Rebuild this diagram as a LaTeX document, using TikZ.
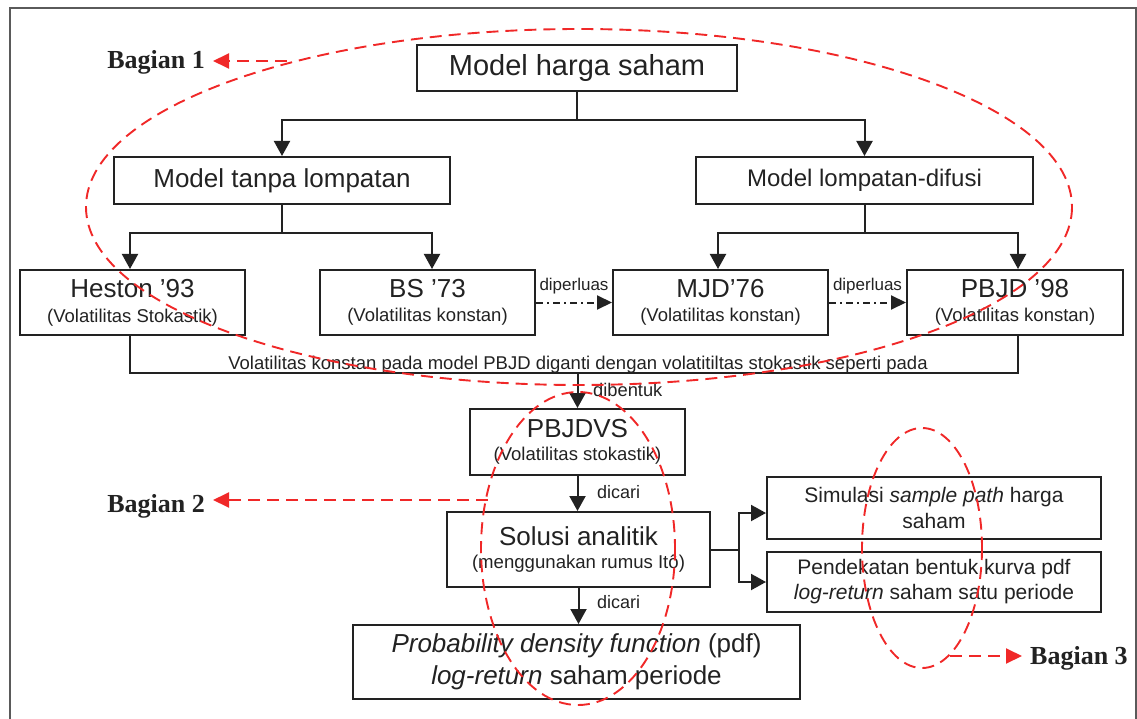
\documentclass[tikz,border=0pt]{standalone}
\usepackage{fontspec}
\setmainfont{Liberation Sans}
\newfontfamily\bagfont{Liberation Serif}
\usetikzlibrary{arrows.meta}
\definecolor{ink}{RGB}{34,34,34}
\definecolor{redc}{RGB}{240,40,40}
\definecolor{framec}{RGB}{90,90,90}
\newcommand\fsz[2]{\fontsize{#1}{#2}\selectfont}
\begin{document}
\begin{tikzpicture}[x=1pt,y=-1pt,
  box/.style={draw=ink, line width=2pt, inner sep=0pt, align=center, text=ink},
  ln/.style={draw=ink, line width=2pt},
  arr/.style={ln, -{Triangle[length=15pt,width=16pt]}},
  ddarr/.style={ln, dash pattern=on 7pt off 4pt on 2pt off 4pt, -{Triangle[length=15pt,width=14pt]}},
  lbl/.style={inner sep=0pt, text=ink},
  reddash/.style={draw=redc, line width=1.9pt, dash pattern=on 12pt off 7pt},
  redarr/.style={reddash, -{Triangle[length=16pt,width=15pt]}},
  bag/.style={inner sep=0pt, text=ink, font=\bagfont\bfseries\fsz{26}{30}},
  frame/.style={draw=framec, line width=1.8pt}]
\useasboundingbox (0,0) rectangle (1137,719);
\draw[frame] (10,719) -- (10,8) -- (1136,8) -- (1136,719);

% boxes
\node[box, minimum width=320pt, minimum height=46pt, font=\fsz{29}{32}] (top) at (577,68.5) {Model harga saham};
\node[box, minimum width=336pt, minimum height=47pt, font=\fsz{26}{30}] (tanpa) at (282,180.5) {Model tanpa lompatan};
\node[box, minimum width=337pt, minimum height=47pt, font=\fsz{24}{28}] (difusi) at (864.5,180.5) {Model lompatan-difusi};
\node[box, minimum width=225pt, minimum height=65pt, font=\fsz{26}{25}] (heston) at (132.5,302.5) {Heston ’93\\{\fsz{18.5}{25}(Volatilitas Stokastik)}};
\node[box, minimum width=215pt, minimum height=65pt, font=\fsz{26}{24}] (bs) at (427.5,302.5) {BS ’73\\{\fsz{18.5}{24}(Volatilitas konstan)}};
\node[box, minimum width=215pt, minimum height=65pt, font=\fsz{26}{24}] (mjd) at (720.5,302.5) {MJD’76\\{\fsz{18.5}{24}(Volatilitas konstan)}};
\node[box, minimum width=216pt, minimum height=65pt, font=\fsz{26}{24}] (pbjd) at (1015,302.5) {PBJD ’98\\{\fsz{18.5}{24}(Volatilitas konstan)}};
\node[box, minimum width=215pt, minimum height=66pt, font=\fsz{26}{23}] (pbjdvs) at (577.5,442) {PBJDVS\\{\fsz{18.5}{23}(Volatilitas stokastik)}};
\node[box, minimum width=263pt, minimum height=75pt, font=\fsz{26}{23}] (solusi) at (578.5,549.5) {Solusi analitik\\{\fsz{18.6}{23}(menggunakan rumus Itô)}};
\node[box, minimum width=447pt, minimum height=74pt, font=\fsz{26}{32}] (pdf) at (576.5,662) {\textit{Probability density function} (pdf)\\\textit{log-return} saham periode};
\node[box, minimum width=334pt, minimum height=62pt, font=\fsz{21}{26}] (sim) at (934,508) {Simulasi \textit{sample path} harga\\saham};
\node[box, minimum width=334pt, minimum height=60pt, font=\fsz{21}{25}] (pend) at (934,582) {Pendekatan bentuk kurva pdf\\\textit{log-return} saham satu periode};

% tree connectors
\draw[ln] (top.south) -- ++(0,28) coordinate (j1);
\draw[arr] (j1) -| (tanpa.north);
\draw[arr] (j1) -| (difusi.north);
\draw[ln] (tanpa.south) -- ++(0,28) coordinate (j2);
\draw[arr] (j2) -| ([xshift=-2.5pt]heston.north);
\draw[arr] (j2) -| ([xshift=4.5pt]bs.north);
\draw[ln] (difusi.south) -- ++(0,28) coordinate (j3);
\draw[arr] (j3) -| ([xshift=-2.5pt]mjd.north);
\draw[arr] (j3) -| ([xshift=3pt]pbjd.north);

% extensions
\draw[ddarr] (bs.east) -- (mjd.west) node[midway, anchor=base, yshift=12pt, lbl, font=\fsz{17}{20}] (dp1) {diperluas};
\draw[ddarr] (mjd.east) -- (pbjd.west) node[midway, anchor=base, yshift=12pt, lbl, font=\fsz{17}{20}] (dp2) {diperluas};

% bottom combination line
\path ([xshift=-2.5pt]heston.south) ++(0,37) coordinate (hb);
\draw[ln] ([xshift=-2.5pt]heston.south) -- (hb) -| ([xshift=3pt]pbjd.south);
\node[lbl, anchor=base, font=\fsz{18.5}{22}] (note) at (578,369) {Volatilitas konstan pada model PBJD diganti dengan volatitiltas stokastik seperti pada};
\coordinate (j4) at (pbjdvs.north |- hb);
\draw[arr] (j4) -- (pbjdvs.north);
\node[lbl, anchor=base west, font=\fsz{18.3}{22}] (dib) at (593,396) {dibentuk};

\draw[arr] (pbjdvs.south) -- (pbjdvs.south |- solusi.north);
\node[lbl, anchor=base west, font=\fsz{18}{22}] (dc1) at (597,498) {dicari};
\draw[arr] (solusi.south) -- (solusi.south |- pdf.north);
\node[lbl, anchor=base west, font=\fsz{18}{22}] (dc2) at (597,608) {dicari};

\draw[ln] (solusi.east) -- ++(28,0) coordinate (j5);
\draw[arr] (j5) |- ([yshift=-5pt]sim.west);
\draw[arr] (j5) |- (pend.west);

% red annotation ellipses
\draw[reddash] (579,207) ellipse [x radius=493, y radius=178];
\draw[reddash] (578,548.5) ellipse [x radius=97, y radius=156.5];
\draw[reddash] (922,548) ellipse [x radius=60, y radius=120];

% Bagian labels
\node[bag, anchor=base east] (b1) at (205,69) {Bagian 1};
\node[bag, anchor=base east] (b2) at (205,512) {Bagian 2};
\node[bag, anchor=base west] (b3) at (1030,664) {Bagian 3};
\coordinate (e1a) at (287,61);
\coordinate (e2a) at (488,500);
\coordinate (e3a) at (950,656);
\draw[redarr, shorten >=8pt] (e1a) -- (e1a -| b1.east);
\draw[redarr, shorten >=8pt] (e2a) -- (e2a -| b2.east);
\draw[redarr, shorten >=8pt] (e3a) -- (e3a -| b3.west);
\end{tikzpicture}
\end{document}
